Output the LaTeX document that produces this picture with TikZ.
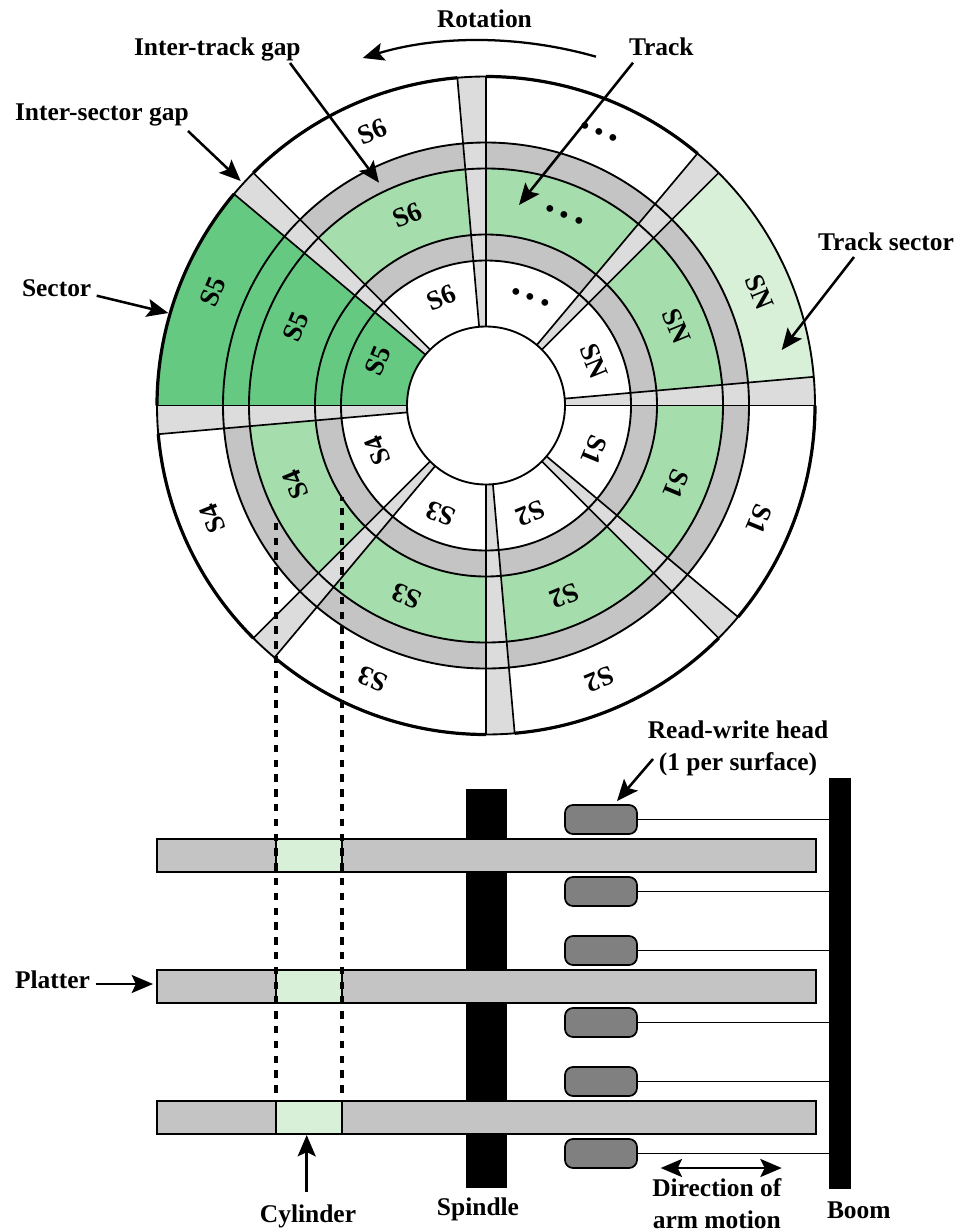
\documentclass[tikz,border=0pt]{standalone}
\usepackage{fontspec}
\setmainfont{Liberation Serif}
\usetikzlibrary{arrows.meta}
\definecolor{trackgreen}{HTML}{A5DEAC}
\definecolor{sectorgreen}{HTML}{66C982}
\definecolor{palegreen}{HTML}{D8F0D8}
\definecolor{trackgap}{HTML}{C4C4C4}
\definecolor{sectorgap}{HTML}{DCDCDC}
\definecolor{headgray}{HTML}{808080}
\tikzset{
  lbl/.style={inner sep=0pt,outer sep=0pt,font=\fontsize{19.1pt}{23.3pt}\selectfont\bfseries,anchor=base},
  lblw/.style={lbl,anchor=base west},
  seclbl/.style={inner sep=0pt,outer sep=0pt,anchor=center,font=\fontsize{20.5pt}{22pt}\selectfont\bfseries},
  dotlbl/.style={inner sep=0pt,outer sep=0pt,anchor=center,font=\fontsize{31pt}{32pt}\selectfont\bfseries},
  tipone/.style={-{Stealth[length=16pt,width=13.5pt,inset=3.2pt]}},
  callout/.style={line width=1.9pt,tipone},
  callouttwo/.style={line width=1.9pt,{Stealth[length=16pt,width=13.5pt,inset=3.2pt]}-{Stealth[length=16pt,width=13.5pt,inset=3.2pt]}},
  ringline/.style={line width=1.4pt},
  gapline/.style={line width=1.25pt},
  rim/.style={line width=2.4pt},
  solidbox/.style={fill=black,draw=none,inner sep=0pt,outer sep=0pt},
  platter/.style={fill=trackgap,draw=black,line width=1.3pt,inner sep=0pt,outer sep=0pt,minimum width=494pt,minimum height=24.75pt},
  cyl/.style={fill=palegreen,draw=black,line width=1.3pt,inner sep=0pt,outer sep=0pt,minimum width=49.5pt,minimum height=24.75pt},
  rwhead/.style={fill=headgray,draw=black,line width=1.3pt,inner sep=0pt,outer sep=0pt,rounded corners=6pt,minimum width=54pt,minimum height=21.75pt},
  arm/.style={line width=1.3pt},
  cylline/.style={line width=2.5pt,dash pattern=on 5.55pt off 5.55pt},
}
\begin{document}
\begin{tikzpicture}[x=0.75pt,y=-0.75pt]
\fill[white] (0,0) rectangle (969,1232);
\useasboundingbox (0,0) rectangle (969,1232);

% ---------- disc ----------
\begin{scope}[shift={(486,405.5)},y=0.75pt]
  \fill[white] (0,0) circle[radius=329];
  \fill[trackgap] (0,0) circle[radius=263];
  \fill[trackgreen] (0,0) circle[radius=237];
  \fill[trackgap] (0,0) circle[radius=171];
  \fill[white] (0,0) circle[radius=145];
  % highlighted sector and track sector
  \fill[sectorgreen] (140:79) arc[start angle=140,end angle=180,radius=79]
     -- (180:329) arc[start angle=180,end angle=140,radius=329] -- cycle;
  \fill[palegreen] (5:263) arc[start angle=5,end angle=45,radius=263]
     -- (45:329) arc[start angle=45,end angle=5,radius=329] -- cycle;
  % inter-sector gaps
  \foreach \a in {0,45,90,135,180,225,270,315} {
    \pgfmathsetmacro{\b}{\a+5}
    \fill[sectorgap] (\a:79) -- (\a:329) arc[start angle=\a,end angle=\b,radius=329] -- (\b:79) -- cycle;
  }
  % ring outlines
  \foreach \r in {145,171,237,263} {
    \draw[ringline] (0,0) circle[radius=\r];
  }
  % gap edges
  \foreach \a in {0,45,90,135,180,225,270,315} {
    \pgfmathsetmacro{\b}{\a+5}
    \draw[gapline] (\a:79) -- (\a:329);
    \draw[gapline] (\b:79) -- (\b:329);
  }
  % rim
  \draw[ringline] (0,0) circle[radius=329];
  \foreach \a/\b in {50/90,95/135,140/180,185/225,230/270,275/315,320/360} {
    \draw[rim] (\a:329) arc[start angle=\a,end angle=\b,radius=329];
  }
  \filldraw[fill=white,draw=black,ringline] (0,0) circle[radius=79];
  % sector labels
  \foreach \n/\t/\a in {a/SN/22.5,c/S6/112.5,d/S5/157.5,e/S4/202.5,f/S3/247.5,g/S2/292.5,h/S1/337.5} {
    \pgfmathsetmacro{\rr}{\a-90}
    \node[seclbl,rotate=\rr] (out\n) at (\a:296) {\t};
    \node[seclbl,rotate=\rr] (mid\n) at (\a:206) {\t};
    \node[seclbl,rotate=\rr] (inn\n) at (\a:117) {\t};
  }
  \node[dotlbl,rotate=-22.5] (outb) at (67.5:296) {.\kern3.9pt.\kern3.9pt.};
  \node[dotlbl,rotate=-22.5] (midb) at (67.5:206) {.\kern3.9pt.\kern3.9pt.};
  \node[dotlbl,rotate=-22.5] (innb) at (67.5:117) {.\kern3.9pt.\kern3.9pt.};
\end{scope}

% ---------- stack ----------
\node[solidbox,minimum width=31pt,minimum height=299pt] (spindle) at (486.65,988.35) {};
\node[solidbox,minimum width=16.7pt,minimum height=308.5pt] (boom) at (839.85,983.35) {};

\node[platter] (p1) at (486.35,855.2) {};
\node[platter] (p2) at (486.35,986.3) {};
\node[platter] (p3) at (486.35,1117.6) {};
\node[cyl] (g1) at (309,855.2) {};
\node[cyl] (g2) at (309,986.3) {};
\node[cyl] (g3) at (309,1117.6) {};

\node[rwhead] (h1) at (601,819.5) {};
\node[rwhead] (h2) at (601,891.5) {};
\node[rwhead] (h3) at (601,950.5) {};
\node[rwhead] (h4) at (601,1022.5) {};
\node[rwhead] (h5) at (601,1081.5) {};
\node[rwhead] (h6) at (601,1153.5) {};
\foreach \h in {h1,h2,h3,h4,h5,h6} {
  \draw[arm] (\h.east) -- (\h.east -| boom.west);
}

% cylinder projection
\coordinate (dl) at (276,522.7);
\coordinate (dr) at (342,497);
\draw[cylline] (dl) -- (g3.north west);
\draw[cylline,dash phase=2.9pt] (dr) -- (g3.north east);

% ---------- labels ----------
\node[lbl] (lrot) at (484.5,27) {Rotation};
\node[lblw] (ltrackgap) at (134,55) {Inter-track gap};
\node[lblw] (ltrack) at (629,55) {Track};
\node[lblw] (lsecgap) at (15,120) {Inter-sector gap};
\node[lblw] (ltsec) at (818,250) {Track sector};
\node[lblw] (lsector) at (22,296) {Sector};
\node[lbl,align=center] (lhead) at (738,770) {Read-write head\\(1 per surface)};
\node[lblw] (lplat) at (15,988) {Platter};
\node[lbl] (lcyl) at (308,1222.7) {Cylinder};
\node[lbl] (lspin) at (478,1215) {Spindle};
\node[lbl,align=center] (ldir) at (716.8,1228) {Direction of\\arm motion};
\node[lblw] (lboom) at (827,1218) {Boom};

% ---------- callouts ----------
\coordinate (rota) at (596,56.7);
\coordinate (rotb) at (362.7,58);
\draw[line width=1.7pt,tipone] (rota) .. controls (520,35) and (439,35) .. (rotb);

\coordinate (a1) at (290,63);    \coordinate (b1) at (379,182.7);
\coordinate (a2) at (188,131);   \coordinate (b2) at (240.7,181);
\coordinate (a3) at (96.7,295.7);\coordinate (b3) at (168.3,313);
\coordinate (a4) at (633,62.7);  \coordinate (b4) at (519,205);
\coordinate (a5) at (854,257);   \coordinate (b5) at (781.7,350);
\coordinate (a6) at (653,759);   \coordinate (b6) at (617,801);
\coordinate (a7) at (95.7,984);
\coordinate (a8) at (306.7,1191.7);\coordinate (b8) at (306.7,1135);
\coordinate (a9) at (660.7,1168);\coordinate (b9) at (781.7,1168);
\draw[callout] (a1) -- (b1);
\draw[callout] (a2) -- (b2);
\draw[callout] (a3) -- (b3);
\draw[callout] (a4) -- (b4);
\draw[callout] (a5) -- (b5);
\draw[callout] (a6) -- (b6);
\draw[callout,shorten >=3pt] (a7) -- (a7 -| p2.west);
\draw[callout] (a8) -- (b8);
\draw[callouttwo] (a9) -- (b9);
\end{tikzpicture}
\end{document}
